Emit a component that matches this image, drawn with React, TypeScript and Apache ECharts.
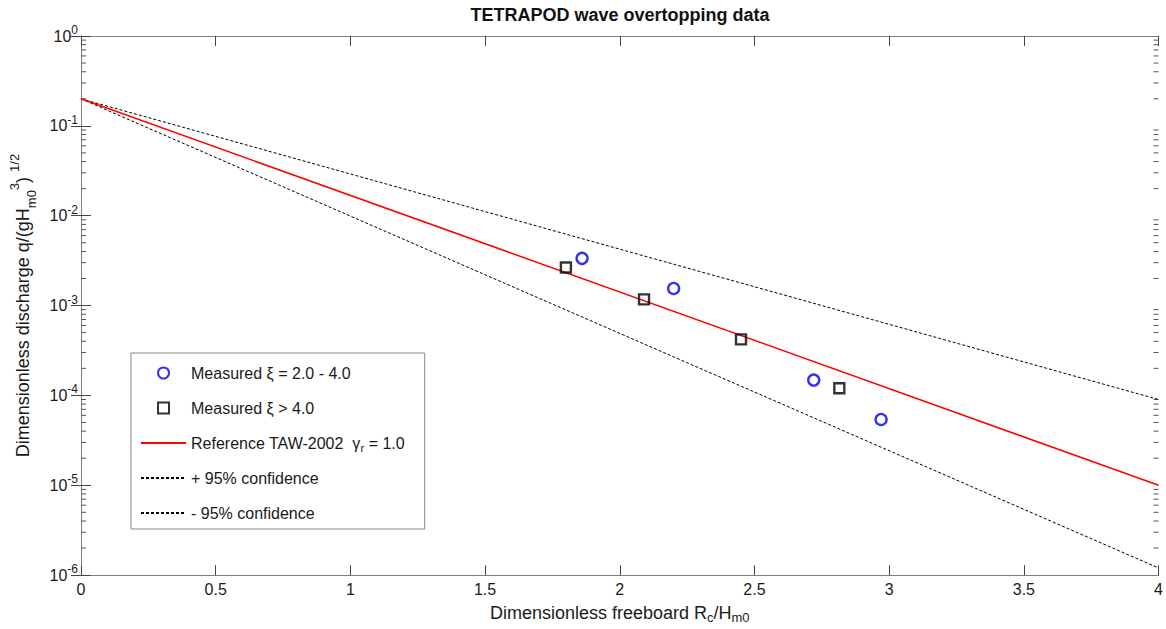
import React, { useEffect, useRef } from "react";
import * as echarts from "echarts";

// ---- data ----
const X_MIN = 0;
const X_MAX = 4;
const X_STEP = 0.5;
const Y_MIN = 1e-6;
const Y_MAX = 1;

const circleX = [1.86, 2.2, 2.72, 2.97];
const circleY = [3.35e-3, 1.55e-3, 1.48e-4, 5.4e-5];

const squareX = [1.8, 2.09, 2.45, 2.815];
const squareY = [2.65e-3, 1.17e-3, 4.2e-4, 1.2e-4];

const lineX = [0, 4];
const refY = [0.2, 1.0e-5];
const upperY = [0.2, 9.0e-5];
const lowerY = [0.2, 1.2e-6];

const NAME_CIRCLE = "Measured ξ = 2.0 - 4.0";
const NAME_SQUARE = "Measured ξ > 4.0";
const NAME_REF = "Reference TAW-2002  γr = 1.0";
const NAME_UP = "+ 95% confidence";
const NAME_LO = "- 95% confidence";

const TITLE = "TETRAPOD wave overtopping data";
const X_NAME = "Dimensionless freeboard R{sub|c}/H{sub|m0}";
const Y_NAME = "Dimensionless discharge q/(gH{sub|m0}{sup|3}) {sup2|1/2}";

// minor tick positions on the log axis (2..9 x 10^k)
const MINOR_TICKS: number[] = [];
for (let k = -6; k <= -1; k++) {
  for (let m = 2; m <= 9; m++) MINOR_TICKS.push(m * Math.pow(10, k));
}

const FONT = "'Liberation Sans', Arial, sans-serif";
const TXT = "#1a1a1a";

export default function App() {
  const ref = useRef<HTMLDivElement>(null);

  useEffect(() => {
    if (!ref.current) return;
    const chart = echarts.init(ref.current, undefined, { renderer: "svg" });

    const zip = (xs: number[], ys: number[]) => xs.map((x, i) => [x, ys[i]]);

    const logAxisCommon = {
      type: "log" as const,
      logBase: 10,
      min: Y_MIN,
      max: Y_MAX,
      interval: 1,
      splitLine: { show: false },
      axisLine: { show: true, lineStyle: { color: "#808080", width: 1 } },
      axisTick: { show: true, inside: true, length: 10, lineStyle: { color: "#444", width: 1 } },
    };
    const xAxisCommon = {
      type: "value" as const,
      min: X_MIN,
      max: X_MAX,
      interval: X_STEP,
      splitLine: { show: false },
      axisLine: { show: true, lineStyle: { color: "#808080", width: 1 } },
      axisTick: { show: true, inside: true, length: 10, lineStyle: { color: "#444", width: 1 } },
    };

    const hiddenSymbol = { opacity: 0 };

    chart.setOption({
      animation: false,
      backgroundColor: "#ffffff",
      textStyle: { fontFamily: FONT },
      grid: { left: 80, right: 6, top: 36, bottom: 52, containLabel: false },
      graphic: [
        {
          type: "text",
          x: 620,
          y: 15,
          style: {
            text: TITLE,
            fontFamily: FONT,
            fontSize: 18,
            fontWeight: "bold",
            fill: "#111",
            align: "center",
            verticalAlign: "middle",
          },
        },
      ],
      xAxis: [
        {
          ...xAxisCommon,
          position: "bottom",
          axisLabel: { show: true, color: TXT, fontSize: 16, margin: 6, fontFamily: FONT },
          name: X_NAME,
          nameLocation: "middle",
          nameGap: 22,
          nameTextStyle: {
            color: TXT,
            fontSize: 18,
            fontFamily: FONT,
            lineHeight: 22,
            rich: {
              sub: { fontSize: 13, fontFamily: FONT, color: TXT, verticalAlign: "bottom", lineHeight: 12 },
            },
          },
        },
        {
          ...xAxisCommon,
          position: "top",
          axisLabel: { show: false },
        },
      ],
      yAxis: [
        {
          ...logAxisCommon,
          position: "left",
          axisLabel: {
            show: true,
            margin: 3,
            formatter: (v: number) => {
              const e = Math.round(Math.log10(v));
              return "{b|10}{s|" + e + "}";
            },
            rich: {
              b: { fontSize: 16, fontFamily: FONT, color: TXT, lineHeight: 24 },
              s: { fontSize: 12, fontFamily: FONT, color: TXT, lineHeight: 12, verticalAlign: "top" },
            },
          },
          name: Y_NAME,
          nameLocation: "middle",
          nameGap: 43,
          nameTextStyle: {
            color: TXT,
            fontSize: 18,
            fontFamily: FONT,
            lineHeight: 30,
            rich: {
              sub: { fontSize: 13, fontFamily: FONT, color: TXT, verticalAlign: "bottom", lineHeight: 18 },
              sup: { fontSize: 13, fontFamily: FONT, color: TXT, verticalAlign: "top", lineHeight: 18 },
              sup2: { fontSize: 13, fontFamily: FONT, color: TXT, verticalAlign: "top", lineHeight: 12 },
            },
          },
        },
        {
          ...logAxisCommon,
          position: "right",
          axisLabel: { show: false },
        },
      ],
      legend: {
        show: true,
        orient: "vertical",
        left: 131,
        top: 353,
        data: [
          { name: NAME_CIRCLE, icon: "circle" },
          { name: NAME_SQUARE, icon: "path://M0,0L10,0L10,10L0,10Z" },
          { name: NAME_REF, itemStyle: hiddenSymbol },
          { name: NAME_UP, itemStyle: hiddenSymbol },
          { name: NAME_LO, itemStyle: hiddenSymbol },
        ],
        selectedMode: false,
        symbolKeepAspect: true,
        itemWidth: 45,
        itemHeight: 11,
        itemGap: 15,
        padding: [10, 20, 6, 9],
        backgroundColor: "#ffffff",
        borderColor: "#888888",
        borderWidth: 1,
        borderRadius: 0,
        formatter: (name: string) =>
          name === NAME_REF ? "Reference TAW-2002  γ{sub|r} = 1.0" : name,
        textStyle: {
          color: TXT,
          fontSize: 16,
          fontFamily: FONT,
          lineHeight: 20,
          rich: {
            sub: { fontSize: 11, fontFamily: FONT, color: TXT, verticalAlign: "bottom", lineHeight: 10 },
          },
        },
      },
      series: [
        {
          type: "custom",
          name: "minorTicks",
          silent: true,
          xAxisIndex: 0,
          yAxisIndex: 0,
          encode: { x: 0, y: 1 },
          data: MINOR_TICKS.map((v) => [X_MIN, v]),
          z: 1,
          renderItem: (params: any, api: any) => {
            const v = api.value(1);
            const pl = api.coord([X_MIN, v]);
            const pr = api.coord([X_MAX, v]);
            return {
              type: "group",
              children: [
                {
                  type: "line",
                  shape: { x1: pl[0], y1: pl[1], x2: pl[0] + 5, y2: pl[1] },
                  style: { stroke: "#555", lineWidth: 1 },
                },
                {
                  type: "line",
                  shape: { x1: pr[0] - 5, y1: pr[1], x2: pr[0], y2: pr[1] },
                  style: { stroke: "#555", lineWidth: 1 },
                },
              ],
            };
          },
        },
        {
          type: "line",
          name: NAME_UP,
          data: zip(lineX, upperY),
          symbol: "none",
          lineStyle: { color: "#000", width: 1, type: [3, 2] },
          itemStyle: { color: "#000" },
          z: 2,
        },
        {
          type: "line",
          name: NAME_LO,
          data: zip(lineX, lowerY),
          symbol: "none",
          lineStyle: { color: "#000", width: 1, type: [3, 2] },
          itemStyle: { color: "#000" },
          z: 2,
        },
        {
          type: "line",
          name: NAME_REF,
          data: zip(lineX, refY),
          symbol: "none",
          lineStyle: { color: "#ff0000", width: 1.5 },
          itemStyle: { color: "#ff0000" },
          z: 3,
        },
        {
          type: "scatter",
          name: NAME_CIRCLE,
          data: zip(circleX, circleY),
          symbol: "circle",
          symbolSize: 11,
          itemStyle: { color: "rgba(255,255,255,0)", borderColor: "#0000ee", borderWidth: 2.4 },
          z: 4,
        },
        {
          type: "scatter",
          name: NAME_SQUARE,
          data: zip(squareX, squareY),
          symbol: "rect",
          symbolSize: 10,
          itemStyle: { color: "rgba(255,255,255,0)", borderColor: "#000000", borderWidth: 2.4 },
          z: 4,
        },
      ],
    });

    return () => chart.dispose();
  }, []);

  return (
    <div
      ref={ref}
      style={{ position: "fixed", left: 0, top: 0, width: 1166, height: 629, background: "#fff" }}
    />
  );
}
